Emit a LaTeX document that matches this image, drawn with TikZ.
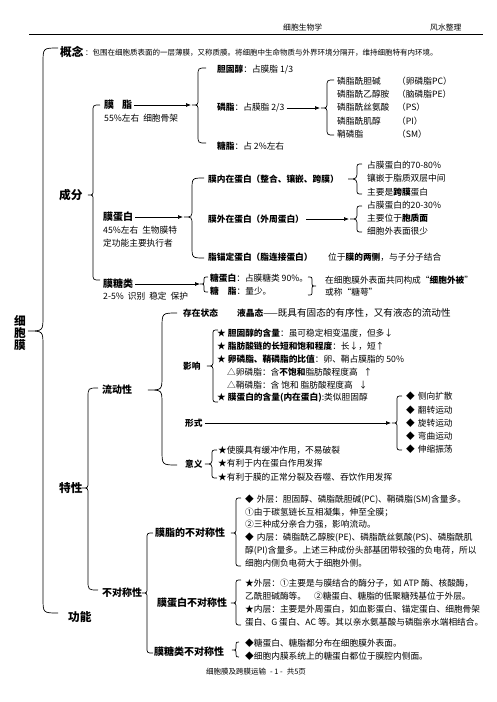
\documentclass[tikz,border=0pt]{standalone}
\usepackage{fontspec}
\setmainfont{Noto Sans CJK SC}
\usetikzlibrary{arrows.meta}
% left-pointing brace: x, top, tip, bottom, end amplitude, tip amplitude
\newcommand\mybraceL[6]{%
 \draw[brc] ({#1+#5},#2) .. controls (#1,#2) .. (#1,{#2+#5}) -- (#1,{#3-#6}) .. controls (#1,#3) .. ({#1-#6},#3) .. controls (#1,#3) .. (#1,{#3+#6}) -- (#1,{#4-#5}) .. controls (#1,#4) .. ({#1+#5},#4);}
% right-pointing brace
\newcommand\mybraceR[6]{%
 \draw[brc] ({#1-#5},#2) .. controls (#1,#2) .. (#1,{#2+#5}) -- (#1,{#3-#6}) .. controls (#1,#3) .. ({#1+#6},#3) .. controls (#1,#3) .. (#1,{#3+#6}) -- (#1,{#4-#5}) .. controls (#1,#4) .. ({#1-#5},#4);}
\begin{document}
\begin{tikzpicture}[x=1pt,y=-1pt,
 brc/.style={line width=0.7pt},
 arr/.style={line width=0.7pt,-{Latex[length=5pt,width=4pt]},shorten <=2pt},
 base/.style={anchor=west,inner sep=0pt,align=left,text=black},
 tb/.style={base,font=\fontsize{8.7}{13}\selectfont},
 tsm/.style={base,font=\fontsize{7.5}{9}\selectfont},
 thdr/.style={base,font=\fontsize{7.8}{9}\selectfont},
 th1/.style={base,font=\fontsize{11.7}{12}\bfseries\selectfont},
 th2/.style={base,font=\fontsize{10}{12}\bfseries\selectfont},
 tsub/.style={base,font=\fontsize{8.7}{12}\bfseries\selectfont}]
\fill[white] (0,0) rectangle (496,702);
\useasboundingbox (0,0) rectangle (496,702);

% header
\node[thdr] (hA) at (283,28) {细胞生物学};
\node[thdr] (hB) at (430,28) {风水整理};
\draw[line width=0.9pt] (29,34) -- (483,34);

% concept
\node[th1] (gn) at (60,52) {概念};
\node[tsm] (gnt) at (85,53) {：包围在细胞质表面的一层薄膜，又称质膜。将细胞中生命物质与外界环境分隔开，维持细胞特有内环境。};

% main
\node[base,align=center,font=\fontsize{11.7}{11.7}\bfseries\selectfont] (xbm) at (14,333) {细\\胞\\膜};
\mybraceL{43}{48}{331}{613}{15}{15}
\node[th1] (cf) at (59,195) {成分};
\node[th1] (tx) at (59,488) {特性};
\node[th1] (gnn) at (68,617) {功能};

% ---- 成分
\mybraceL{93}{105}{195}{280}{7}{5}
\node[th2] (mz) at (104,105) {膜\hspace{8pt}脂};
\node[tb] (mzd) at (104,118) {55\%左右\hspace{4pt}细胞骨架};
\coordinate (t1) at (191,105);
\draw[arr] (mz.east) -- (t1);
\mybraceL{198}{68}{105}{143}{8}{6}
\node[tb] (dgc) at (217,70) {\textbf{胆固醇}：占膜脂 1/3};
\node[tb] (lz) at (217,108) {\textbf{磷脂}：占膜脂 2/3};
\node[tb] (tz) at (217,146) {\textbf{糖脂}：占 2\%左右};
\coordinate (t2) at (320,108);
\draw[arr] (lz.east) -- (t2);
\mybraceL{327}{80}{108}{135}{7}{6}
\node[base,font=\fontsize{8.7}{13.3}\selectfont] (lzl) at (337,107.5) {磷脂酰胆碱\\磷脂酰乙醇胺\\磷脂酰丝氨酸\\磷脂酰肌醇\\鞘磷脂};
\node[base,font=\fontsize{8.7}{13.3}\selectfont] (lzr) at (397,107.5) {（卵磷脂PC）\\（脑磷脂PE）\\（PS）\\（PI）\\（SM）};

\node[th2] (mdb) at (103,217) {膜蛋白};
\node[tb] (mdbd) at (103,236.5) {45\%左右\hspace{4pt}生物膜特\\定功能主要执行者};
\coordinate (t3) at (183,217);
\draw[arr] (mdb.east) -- (t3);
\mybraceL{192}{178}{217}{258}{12}{8}
\node[tsub] (nnz) at (208,179) {膜内在蛋白（整合、镶嵌、跨膜）};
\node[tsub] (nwz) at (208,219) {膜外在蛋白（外周蛋白）};
\node[tsub] (zmd) at (208,257) {脂锚定蛋白（脂连接蛋白）};
\node[tb] (zmdt) at (328,257) {位于\textbf{膜的两侧}，与子分子结合};
\mybraceL{357}{164}{179}{194}{5}{9}
\node[base,font=\fontsize{8.7}{13.5}\selectfont] (nnzl) at (367,178.5) {占膜蛋白的70-80\%\\镶嵌于脂质双层中间\\主要是\textbf{跨膜}蛋白};
\coordinate (t4) at (349,219);
\draw[arr] (nwz.east) -- (t4);
\mybraceL{357}{206}{219}{232}{5}{7}
\node[base,font=\fontsize{8.7}{13}\selectfont] (nwzl) at (367,218.5) {占膜蛋白的20-30\%\\主要位于\textbf{胞质面}\\细胞外表面很少};

\node[th2] (mtl) at (103,284) {膜糖类};
\node[tb] (mtld) at (103,296) {2-5\%\hspace{4pt}识别\hspace{4pt}稳定\hspace{4pt}保护};
\coordinate (t5) at (200,284);
\draw[arr] (mtl.east) -- (t5);
\mybraceL{204}{277}{284}{292}{4}{4}
\node[base,font=\fontsize{8.7}{12.5}\selectfont] (mtll) at (210,284.5) {\textbf{糖蛋白}：占膜糖类 90\%。\\\textbf{糖\hspace{9pt}脂}：量少。};
\mybraceR{312}{277}{286}{295}{4}{4}
\node[base,font=\fontsize{8.7}{12}\selectfont] (mtlr) at (325,286) {在细胞膜外表面共同构成“\textbf{细胞外被}”\\或称“糖萼”};

% ---- 特性
\mybraceL{88}{388}{488}{590}{10}{6}
\node[th2] (ldx) at (102,390) {流动性};
\mybraceL{162}{313}{390}{465}{15}{14}
\node[tsub] (czzt) at (183,313) {存在状态};
\node[tb] (yjt) at (237,313) {\textbf{液晶态}——{\fontsize{9.6}{12}\selectfont 既具有固态的有序性，又有液态的流动性}};

\node[tsub] (yx) at (183,366) {影响};
\mybraceL{213}{330}{366}{402}{5}{6}
\node[tb] (yx1) at (217,333) {★ \textbf{胆固醇的含量}：虽可稳定相变温度，但多↓};
\node[tb] (yx2) at (217,346) {★ \textbf{脂肪酸链的长短和饱和程度}：长↓，短↑};
\node[tb] (yx3) at (217,359) {★ \textbf{卵磷脂、鞘磷脂的比值}：卵、鞘占膜脂的 50\%};
\node[tb] (yx4) at (227,372) {△卵磷脂：含\textbf{不饱和}脂肪酸程度高\hspace{6pt}↑};
\node[tb] (yx5) at (227,385) {△鞘磷脂：含 饱和 脂肪酸程度高\hspace{6pt}↓};
\node[tb] (yx6) at (217,398) {★ \textbf{膜蛋白的含量(内在蛋白)}:类似胆固醇};

\node[tsub] (xs) at (185,423) {形式};
\coordinate (t6) at (391,423);
\draw[arr] (xs.east) -- (t6);
\mybraceL{397}{396}{423}{450}{5}{5}
\node[base,font=\fontsize{8.7}{13.3}\selectfont] (xsl) at (406,423) {◆\hspace{3pt}侧向扩散\\◆\hspace{3pt}翻转运动\\◆\hspace{3pt}旋转运动\\◆\hspace{3pt}弯曲运动\\◆\hspace{3pt}伸缩振荡};

\node[tsub] (yy) at (185,464) {意义};
\mybraceL{212}{450}{464}{478}{5}{7}
\node[base,font=\fontsize{8.7}{13.5}\selectfont] (yyl) at (218,463.5) {★使膜具有缓冲作用，不易破裂\\★有利于内在蛋白作用发挥\\★有利于膜的正常分裂及吞噬、吞饮作用发挥};

\node[th2] (bdc) at (102,593) {不对称性};
\mybraceL{147}{533}{593}{653}{6}{5}
\node[th2] (mzb) at (155,533) {膜脂的不对称性};
\mybraceL{236}{498}{533}{566}{5}{5}
\node[base,font=\fontsize{8.7}{12.9}\selectfont] (mzbl) at (245,531) {◆\hspace{3pt}外层：胆固醇、磷脂酰胆碱(PC)、鞘磷脂(SM)含量多。\\①由于碳氢链长互相凝集，伸至全膜；\\②三种成分亲合力强，影响流动。\\◆\hspace{3pt}内层：磷脂酰乙醇胺(PE)、磷脂酰丝氨酸(PS)、磷脂酰肌\\醇(PI)含量多。上述三种成份头部基团带较强的负电荷，所以\\细胞内侧负电荷大于细胞外侧。};

\node[th2] (mdbb) at (157,603) {膜蛋白不对称性};
\mybraceL{236}{580}{603}{625}{5}{5}
\node[base,font=\fontsize{8.7}{13}\selectfont] (mdbbl) at (245,602.5) {★外层：①主要是与膜结合的酶分子，如 ATP 酶、核酸酶，\\乙酰胆碱酶等。\hspace{8pt}②糖蛋白、糖脂的低聚糖残基位于外层。\\★内层：主要是外周蛋白，如血影蛋白、锚定蛋白、细胞骨架\\蛋白、G 蛋白、AC 等。其以亲水氨基酸与磷脂亲水端相结合。};

\node[th2] (mtlb) at (154,652) {膜糖类不对称性};
\mybraceL{236}{642}{650}{657}{3}{4}
\node[base,font=\fontsize{8.7}{13}\selectfont] (mtlbl) at (245,649.5) {◆糖蛋白、糖脂都分布在细胞膜外表面。\\◆细胞内膜系统上的糖蛋白都位于膜腔内侧面。};

% footer
\node[tsm,anchor=center] (ft) at (256,672) {细胞膜及跨膜运输\hspace{4pt}- 1 -\hspace{4pt}共5页};
\end{tikzpicture}
\end{document}
